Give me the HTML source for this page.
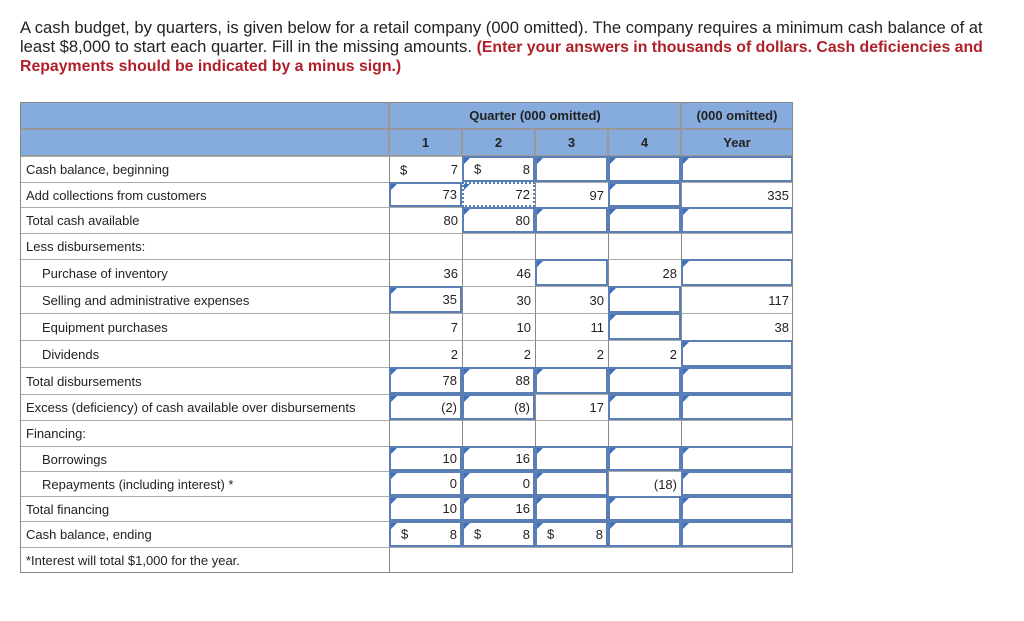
<!DOCTYPE html>
<html><head><meta charset="utf-8"><style>
body{margin:0;width:1024px;height:621px;background:#fff;font-family:"Liberation Sans",sans-serif;position:relative;overflow:hidden;color:#222}
.intro{position:absolute;left:20px;top:19px;font-size:16.6px;line-height:18.5px;white-space:nowrap}
.red{color:#b0202a;font-weight:bold;font-size:15.85px}
.c{position:absolute;box-sizing:border-box;font-size:13px;line-height:1}
.lab{border-top:1px solid #aaa;border-left:1px solid #888;padding-left:5px;display:flex;align-items:center}
.hd{background:#86acdd;border:1px solid #999;font-weight:bold;display:flex;align-items:center;justify-content:center}
.st{border-top:1px solid #aaa;border-left:1px solid #888;display:flex;align-items:center;justify-content:flex-end;padding-right:4px}
.in{border:2px solid #5a7fb5;background:#fff;display:flex;align-items:center;justify-content:flex-end;padding-right:3px}
.in::before{content:"";position:absolute;left:0;top:0;border-left:6px solid #3c6fbf;border-bottom:6px solid transparent}
.dot{border:2px dotted #5a7fb5}
.dol{position:absolute;left:10px;top:50%;transform:translateY(-50%)}
</style></head><body>
<div class="intro">A cash budget, by quarters, is given below for a retail company (000 omitted). The company requires a minimum cash balance of at<br>least $8,000 to start each quarter. Fill in the missing amounts. <span class="red">(Enter your answers in thousands of dollars. Cash deficiencies and<br>Repayments should be indicated by a minus sign.)</span></div>
<div id="t"></div>
<script>
const cols=[389,462,535,608,681,793];
const rows=[156,182,207,233,259,286,313,340,367,394,420,446,471,496,521,547,573];
const labels=["Cash balance, beginning","Add collections from customers","Total cash available","Less disbursements:","Purchase of inventory","Selling and administrative expenses","Equipment purchases","Dividends","Total disbursements","Excess (deficiency) of cash available over disbursements","Financing:","Borrowings","Repayments (including interest) *","Total financing","Cash balance, ending","*Interest will total $1,000 for the year."];
const indent=[0,0,0,0,1,1,1,1,0,0,0,1,1,0,0,0];
const cells=[
["$7","i$8","i","i","i"],
["i73","d72","97","i","335"],
["80","i80","i","i","i"],
["","","","",""],
["36","46","i","28","i"],
["i35","30","30","i","117"],
["7","10","11","i","38"],
["2","2","2","2","i"],
["i78","i88","i","i","i"],
["i(2)","i(8)","17","i","i"],
["","","","",""],
["i10","i16","i","i","i"],
["i0","i0","i","(18)","i"],
["i10","i16","i","i","i"],
["i$8","i$8","i$8","i","i"]
];
const t=document.getElementById('t');
function mk(cls,x,y,w,h,html){const d=document.createElement('div');d.className='c '+cls;d.style.left=x+'px';d.style.top=y+'px';d.style.width=w+'px';d.style.height=h+'px';d.innerHTML=html||'';t.appendChild(d);return d;}
let e;
e=mk('hd',20,102,369,27);


e=mk('hd',20,129,369,27);


e=mk('hd',389,102,292,27,'Quarter (000 omitted)');


e=mk('hd',681,102,112,27,'(000 omitted)');


["1","2","3","4","Year"].forEach((h,i)=>{const d=mk('hd',cols[i],129,cols[i+1]-cols[i],27,h);

});
labels.forEach((l,r)=>{const d=mk('lab',20,rows[r],369,rows[r+1]-rows[r],l);if(indent[r])d.style.paddingLeft='21px';

});
cells.forEach((row,r)=>row.forEach((v,c)=>{
 let cls='st',txt=v;
 if(v[0]=='i'){cls='in';txt=v.slice(1);} else if(v[0]=='d'){cls='in dot';txt=v.slice(1);}
 let html=txt;
 if(txt[0]=='$')html='<span class="dol">$</span>'+txt.slice(1);
 const d=mk(cls,cols[c],rows[r],cols[c+1]-cols[c],rows[r+1]-rows[r],html);
 
 
}));
e=mk('st',389,547,404,26,'');


const b=document.createElement('div');b.className='c';b.style.cssText='left:20px;top:102px;width:773px;height:471px;border:1px solid #888;pointer-events:none';


t.appendChild(b);
</script>
</body></html>
